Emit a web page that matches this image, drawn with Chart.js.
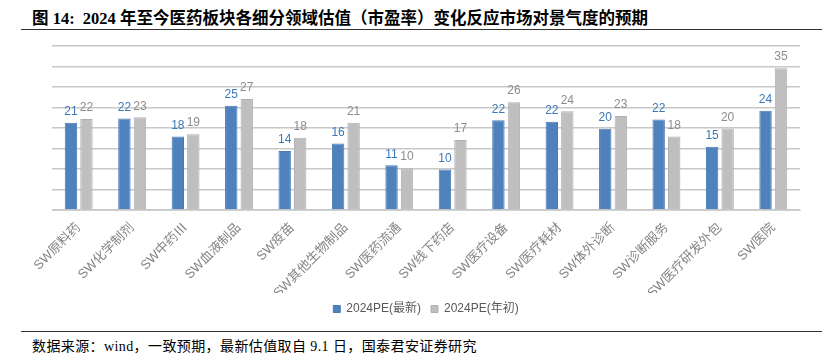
<!DOCTYPE html>
<html>
<head>
<meta charset="utf-8">
<script src="https://cdn.jsdelivr.net/npm/chart.js@4/dist/chart.umd.min.js"></script>
<style>
  html, body { margin: 0; padding: 0; background: #fff; }
  body { width: 822px; height: 357px; position: relative; overflow: hidden; }
  #title { position: absolute; left: 32px; top: 5px; font: bold 16.5px "Liberation Serif", "Noto Sans CJK SC", serif; color: #000; white-space: nowrap; }
  #tline { position: absolute; left: 21px; right: 0; top: 29px; height: 0; border-top: 1.5px solid #333; }
  #fline { position: absolute; left: 21px; right: 0; top: 331px; height: 0; border-top: 1.5px solid #333; }
  #footer { position: absolute; left: 32px; top: 335px; font: 14px "Liberation Serif", "Noto Sans CJK SC", serif; letter-spacing: 0.4px; color: #000; white-space: nowrap; }
  #wrap { position: absolute; left: 0; top: 40px; width: 822px; height: 285px; }
</style>
</head>
<body>
<div id="title">图 14:&nbsp; 2024 年至今医药板块各细分领域估值（市盈率）变化反应市场对景气度的预期</div>
<div id="tline"></div>
<div id="wrap"><canvas id="c"></canvas></div>
<div id="fline"></div>
<div id="footer">数据来源：wind，一致预期，最新估值取自 9.1 日，国泰君安证券研究</div>
<script>
const categories = ["SW原料药", "SW化学制剂", "SW中药Ⅲ", "SW血液制品", "SW疫苗", "SW其他生物制品", "SW医药流通", "SW线下药店", "SW医疗设备", "SW医疗耗材", "SW体外诊断", "SW诊断服务", "SW医疗研发外包", "SW医院"];
const seriesNames = ["2024PE(最新)", "2024PE(年初)"];
const peLatest = [21.3, 22.3, 17.9, 25.4, 14.4, 16.2, 10.9, 9.9, 21.9, 21.5, 19.8, 22.1, 15.4, 24.2];
const peYearStart = [22.2, 22.6, 18.5, 27.1, 17.6, 21.3, 10.2, 17.1, 26.3, 24.1, 22.9, 17.9, 19.9, 34.6];
const yTicks = { min: 0, max: 40, step: 5 };

const labelColors = ["#3b78b8", "#8c8c8c"];

const valueLabels = {
  id: "valueLabels",
  afterDatasetsDraw(chart) {
    const ctx = chart.ctx;
    ctx.save();
    ctx.font = "12px 'Liberation Sans', Arial, sans-serif";
    ctx.textAlign = "center";
    ctx.textBaseline = "bottom";
    chart.data.datasets.forEach((ds, i) => {
      const meta = chart.getDatasetMeta(i);
      ctx.fillStyle = labelColors[i];
      meta.data.forEach((el, j) => {
        ctx.fillText(String(Math.round(ds.data[j])), el.x, el.y - 5);
      });
    });
    ctx.restore();
  }
};

new Chart(document.getElementById("c"), {
  type: "bar",
  data: {
    labels: categories,
    datasets: [
      { label: seriesNames[0], data: peLatest, backgroundColor: "#4f81bd", borderColor: "#4a7ab4", borderWidth: 1, categoryPercentage: 0.58, barPercentage: 0.8 },
      { label: seriesNames[1], data: peYearStart, backgroundColor: "#bfbfbf", borderColor: "#b0b0b0", borderWidth: 1, categoryPercentage: 0.58, barPercentage: 0.8 }
    ]
  },
  options: {
    responsive: true,
    maintainAspectRatio: false,
    animation: false,
    devicePixelRatio: 1,
    layout: { padding: { left: 52, right: 22, top: 6, bottom: 0 } },
    plugins: {
      legend: {
        position: "bottom",
        labels: {
          boxWidth: 7, boxHeight: 7, padding: 10,
          color: "#595959",
          font: { size: 12, family: "'Liberation Sans', 'Noto Sans CJK SC', sans-serif" }
        }
      },
      tooltip: { enabled: false }
    },
    scales: {
      x: {
        grid: { display: false },
        border: { display: true, color: "#d0d0d0", width: 1 },
        ticks: {
          maxRotation: 45, minRotation: 45, autoSkip: false, padding: 2,
          color: "#858585",
          font: { size: 13, family: "'Liberation Sans', 'Noto Sans CJK SC', sans-serif" }
        },
        afterFit(scale) { scale.height = 83; }
      },
      y: {
        min: yTicks.min, max: yTicks.max,
        ticks: { display: false, stepSize: yTicks.step },
        grid: { color: "#c8c8c8", lineWidth: 1.5, drawTicks: false },
        border: { display: false },
        afterFit(scale) { scale.width = 0; }
      }
    }
  },
  plugins: [valueLabels]
});
</script>
</body>
</html>
